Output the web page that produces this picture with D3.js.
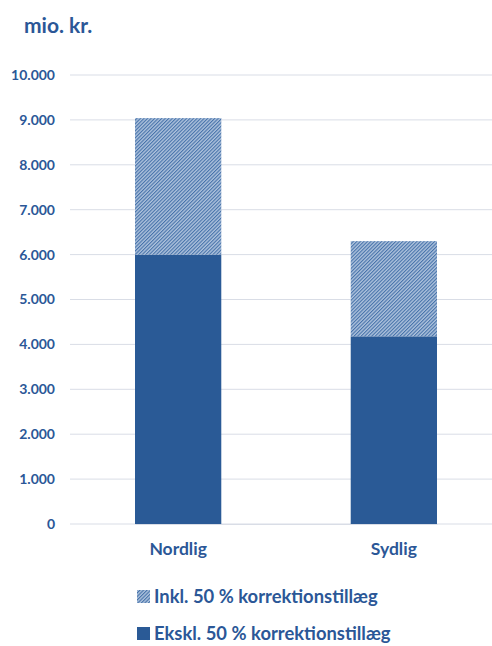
<!DOCTYPE html>
<html>
<head>
<meta charset="utf-8">
<script src="https://cdn.jsdelivr.net/npm/d3@7"></script>
<style>
  body { margin: 0; background: #fff; }
  svg text { font-family: Lato, "Open Sans", sans-serif; font-weight: bold; fill: #2B5797; }
</style>
</head>
<body>
<div id="chart"></div>
<script>
// Data
const categories = ['Nordlig', 'Sydlig'];
const ekskl = [6000, 4180];        // Ekskl. 50 % korrektionstillæg
const inkl = [9040, 6300];         // Inkl. 50 % korrektionstillæg (total)
const yTicks = [0, 1000, 2000, 3000, 4000, 5000, 6000, 7000, 8000, 9000, 10000];
const legendLabels = ['Inkl. 50 % korrektionstillæg', 'Ekskl. 50 % korrektionstillæg'];

const COLOR_MAIN = '#2A5A96';
const COLOR_GRID = '#D9DDE6';

const W = 492, H = 646;
let margin = {top: 75, right: 0, bottom: 122, left: 70},
    width = W - margin.left - margin.right,
    height = H - margin.top - margin.bottom;

let svgRoot = d3.select('#chart').append('svg')
    .attr('width', W)
    .attr('height', H);

// Hatch pattern
let defs = svgRoot.append('defs');
let pat = defs.append('pattern')
    .attr('id', 'hatch')
    .attr('patternUnits', 'userSpaceOnUse')
    .attr('width', 2.5)
    .attr('height', 2.5)
    .attr('patternTransform', 'rotate(45)');
pat.append('rect').attr('width', 2.5).attr('height', 2.5).attr('fill', '#AFC3DD');
pat.append('rect').attr('width', 1.1).attr('height', 2.5).attr('fill', '#4672AA');

let svg = svgRoot.append('g')
    .attr('transform', 'translate(' + margin.left + ',' + margin.top + ')');

// Title
svgRoot.append('text')
    .attr('x', 24)
    .attr('y', 33)
    .attr('font-size', 21)
    .text('mio. kr.');

let y = d3.scaleLinear()
    .domain([0, 10000])
    .range([height, 0]);

let x = d3.scaleBand()
    .domain(categories)
    .range([65, 367])
    .paddingInner(0.6)
    .paddingOuter(0);

// Gridlines
svg.append('g')
    .selectAll('line')
    .data(yTicks)
    .enter()
    .append('line')
    .attr('x1', 0)
    .attr('x2', width)
    .attr('y1', d => y(d))
    .attr('y2', d => y(d))
    .attr('stroke', COLOR_GRID)
    .attr('stroke-width', 1);

// Y axis
let yAxis = d3.axisLeft(y)
    .tickValues(yTicks)
    .tickSize(0)
    .tickPadding(15)
    .tickFormat(d => d3.format(',')(d).replace(/,/g, '.'));

svg.append('g')
    .call(yAxis)
    .call(g => g.select('.domain').remove())
    .call(g => g.selectAll('text').attr('font-size', 14).attr('fill', COLOR_MAIN));

// Bars - ekskl
svg.append('g')
    .selectAll('rect')
    .data(categories)
    .enter()
    .append('rect')
    .attr('x', d => x(d))
    .attr('width', x.bandwidth())
    .attr('y', (d, i) => y(ekskl[i]))
    .attr('height', (d, i) => y(0) - y(ekskl[i]))
    .attr('fill', COLOR_MAIN);

// Bars - inkl (hatched on top)
svg.append('g')
    .selectAll('rect')
    .data(categories)
    .enter()
    .append('rect')
    .attr('x', d => x(d))
    .attr('width', x.bandwidth())
    .attr('y', (d, i) => y(inkl[i]))
    .attr('height', (d, i) => y(ekskl[i]) - y(inkl[i]))
    .attr('fill', 'url(#hatch)');

// X axis
let xAxis = d3.axisBottom(x).tickSize(0).tickPadding(19);
svg.append('g')
    .attr('transform', 'translate(0,' + height + ')')
    .call(xAxis)
    .call(g => g.select('.domain').attr('stroke', COLOR_GRID))
    .call(g => g.selectAll('text').attr('font-size', 17.5).attr('fill', COLOR_MAIN));

// Legend
let legend = svgRoot.append('g');
let legendY = [603, 640];
legendLabels.forEach(function(label, i) {
    let g = legend.append('g').attr('transform', 'translate(137,' + legendY[i] + ')');
    g.append('rect')
        .attr('x', 0)
        .attr('y', -13)
        .attr('width', 13)
        .attr('height', 13)
        .attr('fill', i === 0 ? 'url(#hatch)' : COLOR_MAIN);
    g.append('text')
        .attr('x', 17)
        .attr('y', 0)
        .attr('font-size', 18.4)
        .text(label);
});
</script>
</body>
</html>
